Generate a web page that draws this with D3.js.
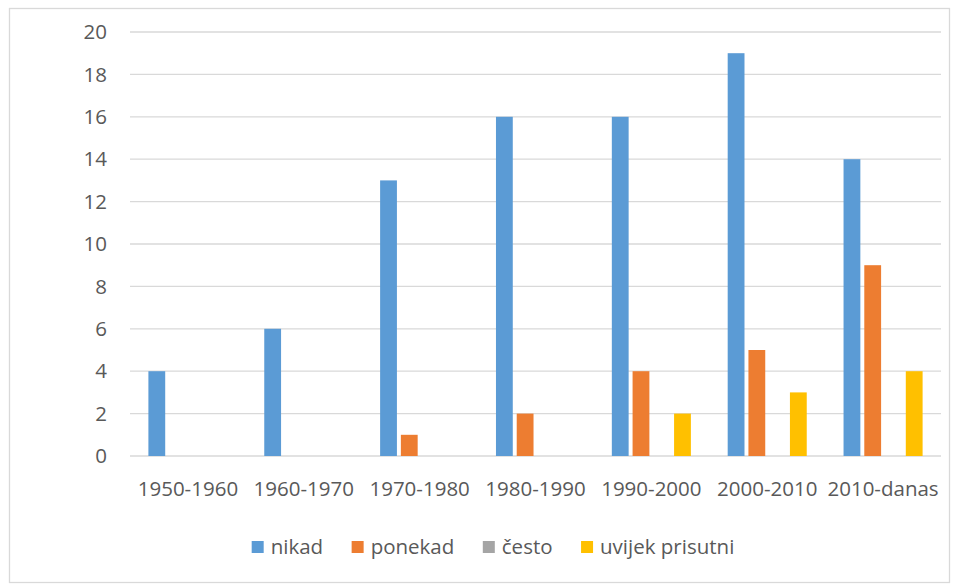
<!DOCTYPE html>
<html>
<head>
<meta charset="utf-8">
<script src="https://cdn.jsdelivr.net/npm/d3@7"></script>
<style>
  body { margin: 0; background: #fff; }
  text { font-family: 'Open Sans', sans-serif; fill: #595959; }
</style>
</head>
<body>
<div id="chart"></div>
<script>
// data
var categories = ['1950-1960', '1960-1970', '1970-1980', '1980-1990', '1990-2000', '2000-2010', '2010-danas']
var seriesNames = ['nikad', 'ponekad', 'često', 'uvijek prisutni']
var nikad = [4, 6, 13, 16, 16, 19, 14]
var ponekad = [0, 0, 1, 2, 4, 5, 9]
var cesto = [0, 0, 0, 0, 0, 0, 0]
var uvijek = [0, 0, 0, 0, 2, 3, 4]
var yTicks = [0, 2, 4, 6, 8, 10, 12, 14, 16, 18, 20]
var colors = ['#5B9BD5', '#ED7D31', '#A5A5A5', '#FFC000']

var seriesValues = [nikad, ponekad, cesto, uvijek]

var width = 958
var height = 585
var plot = { left: 130, right: 941, top: 32, bottom: 456 }
var fontSize = '20.5px'

var svg = d3
  .select('#chart')
  .append('svg')
  .attr('width', width)
  .attr('height', height)

// chart border
svg
  .append('rect')
  .attr('x', 9.5)
  .attr('y', 8.5)
  .attr('width', 940)
  .attr('height', 574)
  .attr('fill', 'none')
  .attr('stroke', '#D9D9D9')
  .attr('stroke-width', 1.3)

// scales
var x0 = d3
  .scaleBand()
  .domain(categories)
  .range([plot.left, plot.right])
  .padding(0)

var groupPad = 18.4
var x1 = d3
  .scaleBand()
  .domain(d3.range(seriesNames.length))
  .range([groupPad, x0.bandwidth() - groupPad])
  .paddingInner(0.19)
  .paddingOuter(0)

var y = d3
  .scaleLinear()
  .domain([0, 20])
  .range([plot.bottom, plot.top])

// gridlines
svg
  .append('g')
  .selectAll('line')
  .data(yTicks)
  .enter()
  .append('line')
  .attr('x1', plot.left)
  .attr('x2', plot.right)
  .attr('y1', d => y(d))
  .attr('y2', d => y(d))
  .attr('stroke', '#D9D9D9')
  .attr('stroke-width', 1.3)

// y labels
svg
  .append('g')
  .selectAll('text')
  .data(yTicks)
  .enter()
  .append('text')
  .attr('x', 107)
  .attr('y', d => y(d))
  .attr('dy', '0.35em')
  .attr('text-anchor', 'end')
  .style('font-size', fontSize)
  .text(d => d)

// bars
var rows = []
categories.forEach((c, i) => {
  seriesValues.forEach((vals, s) => {
    rows.push({ cat: c, s: s, v: vals[i] })
  })
})

svg
  .append('g')
  .selectAll('rect')
  .data(rows.filter(d => d.v > 0))
  .enter()
  .append('rect')
  .attr('x', d => x0(d.cat) + x1(d.s))
  .attr('y', d => y(d.v))
  .attr('width', x1.bandwidth())
  .attr('height', d => y(0) - y(d.v))
  .attr('fill', d => colors[d.s])

// category labels
svg
  .append('g')
  .selectAll('text')
  .data(categories)
  .enter()
  .append('text')
  .attr('x', d => x0(d) + x0.bandwidth() / 2)
  .attr('y', 496)
  .attr('text-anchor', 'middle')
  .style('font-size', fontSize)
  .text(d => d)

// legend
var legend = svg.append('g')
var items = legend
  .selectAll('g')
  .data(seriesNames)
  .enter()
  .append('g')

items
  .append('text')
  .attr('y', 547)
  .attr('dy', '0.35em')
  .style('font-size', fontSize)
  .text(d => d)

var widths = []
items.select('text').each(function () {
  widths.push(this.getComputedTextLength())
})
var sq = 12
var gapText = 7
var gapItem = 28.5
var total = d3.sum(widths) + seriesNames.length * (sq + gapText) + (seriesNames.length - 1) * gapItem
var pos = 493 - total / 2
items.each(function (d, i) {
  var g = d3.select(this)
  g.insert('rect', 'text')
    .attr('x', pos)
    .attr('y', 547 - sq / 2)
    .attr('width', sq)
    .attr('height', sq)
    .attr('fill', colors[i])
  g.select('text').attr('x', pos + sq + gapText)
  pos += sq + gapText + widths[i] + gapItem
})
</script>
</body>
</html>
